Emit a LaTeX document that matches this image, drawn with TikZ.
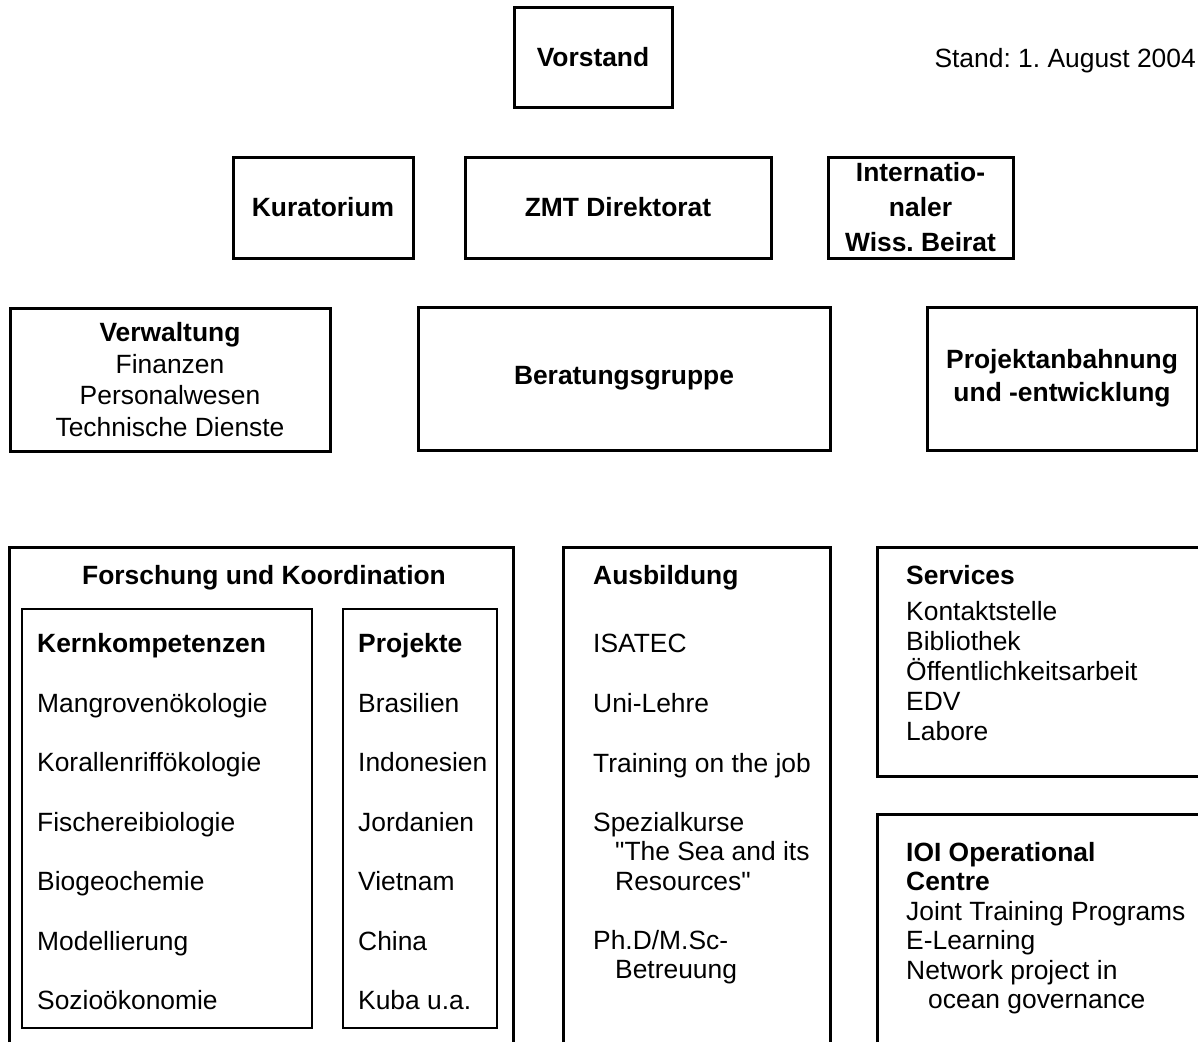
\documentclass[tikz,border=0pt]{standalone}
\usepackage{fontspec}
\setmainfont{Liberation Sans}
\newfontfamily\plainquote{Liberation Sans}[Ligatures=TeXOff]
\newcommand{\orgfont}{\fontsize{26.4}{30}\selectfont\frenchspacing}
\newcommand{\dq}{{\plainquote"}}
\tikzset{
  orgbox/.style={draw, line width=3pt, inner sep=0pt, align=center, font=\bfseries\orgfont},
  openbox/.style={draw=none, inner sep=0pt},
  thinbox/.style={draw, line width=1.4pt, inner sep=0pt},
  item/.style={anchor=mid west, inner sep=0pt, font=\orgfont, align=left},
  head/.style={item, font=\bfseries\orgfont},
}
\begin{document}
\begin{tikzpicture}[x=1pt, y=-1pt]
  \useasboundingbox (0,0) rectangle (1198,1042);

  % Leitung
  \node[orgbox, minimum width=158pt, minimum height=100pt] (vorstand) at (593,57) {Vorstand};
  \node[item, anchor=mid east] (stand) at (1196,65) {Stand: 1. August 2004};

  \node[orgbox, minimum width=180pt, minimum height=101pt] (kurat) at (323,207.5) {Kuratorium};
  \node[orgbox, minimum width=306pt, minimum height=101pt] (direkt) at (618,207.5) {ZMT Direktorat};
  \node[orgbox, minimum width=185pt, minimum height=101pt,
        font=\bfseries\fontsize{26.4}{35}\selectfont\frenchspacing] (beirat) at (920.5,207.5)
        {Internatio-\\naler\\Wiss. Beirat};

  \node[orgbox, minimum width=320pt, minimum height=143pt,
        font=\fontsize{26.4}{31.5}\selectfont] (verw) at (170,379.5)
        {\textbf{Verwaltung}\\Finanzen\\Personalwesen\\Technische Dienste};
  \node[orgbox, minimum width=412pt, minimum height=143pt] (berat) at (624,378.5) {Beratungsgruppe};
  \node[orgbox, minimum width=270pt, minimum height=143pt,
        font=\bfseries\fontsize{26.4}{33}\selectfont] (projanb) at (1062,378.5)
        {Projektanbahnung\\und -entwicklung};

  % Forschung und Koordination
  \node[openbox, minimum width=503pt, minimum height=494pt] (forsch) at (261.5,795) {};
  \draw[line width=3pt] (forsch.south west) |- (forsch.north east) -- (forsch.south east);
  \node[head, anchor=mid] (forschtitel) at (264,582) {Forschung und Koordination};

  \node[thinbox, minimum width=290pt, minimum height=419pt] (kern) at (167,818.5) {};
  \node[thinbox, minimum width=154pt, minimum height=419pt] (proj) at (420,818.5) {};
  \node[head] (kern-0) at (37,650) {Kernkompetenzen};
  \node[head] (proj-0) at (358,650) {Projekte};
  \foreach \name [count=\i] in {Mangrovenökologie, Korallenriffökologie, Fischereibiologie,
      Biogeochemie, Modellierung, Sozioökonomie}
    \node[item] (kern-\i) at (37,650+59.5*\i) {\name};
  \foreach \name [count=\i] in {Brasilien, Indonesien, Jordanien, Vietnam, China, Kuba u.a.}
    \node[item] (proj-\i) at (358,650+59.5*\i) {\name};

  % Ausbildung
  \node[openbox, minimum width=266pt, minimum height=494pt] (ausb) at (697,795) {};
  \draw[line width=3pt] (ausb.south west) |- (ausb.north east) -- (ausb.south east);
  \node[head] (ausb-0) at (593,582) {Ausbildung};
  \node[item] (ausb-1) at (593,650) {ISATEC};
  \node[item] (ausb-2) at (593,710) {Uni-Lehre};
  \node[item] (ausb-3) at (593,770) {Training on the job};
  \node[item, anchor=north west, font=\fontsize{26.4}{29.5}\selectfont] (ausb-4) at (593,812)
    {Spezialkurse\\\hspace*{22pt}\dq The Sea and its\\\hspace*{22pt}Resources\dq};
  \node[item, anchor=north west, font=\fontsize{26.4}{29.5}\selectfont] (ausb-5) at (593,930)
    {Ph.D/M.Sc-\\\hspace*{22pt}Betreuung};

  % Services
  \node[openbox, minimum width=323pt, minimum height=228pt] (serv) at (1039.5,662) {};
  \draw[line width=3pt] (serv.south east) -- (serv.south west) |- (serv.north east);
  \node[head] (serv-0) at (906,582) {Services};
  \node[item, anchor=north west] (serv-1) at (906,601)
    {Kontaktstelle\\Bibliothek\\Öffentlichkeitsarbeit\\EDV\\Labore};

  % IOI
  \node[openbox, minimum width=323pt, minimum height=227pt] (ioi) at (1039.5,928.5) {};
  \draw[line width=3pt] (ioi.south west) |- (ioi.north east);
  \node[item, anchor=north west, font=\fontsize{26.4}{29.5}\selectfont] (ioi-1) at (906,842)
    {\textbf{IOI Operational}\\\textbf{Centre}\\Joint Training Programs\\E-Learning\\
     Network project in\\\hspace*{22pt}ocean governance};
\end{tikzpicture}
\end{document}
